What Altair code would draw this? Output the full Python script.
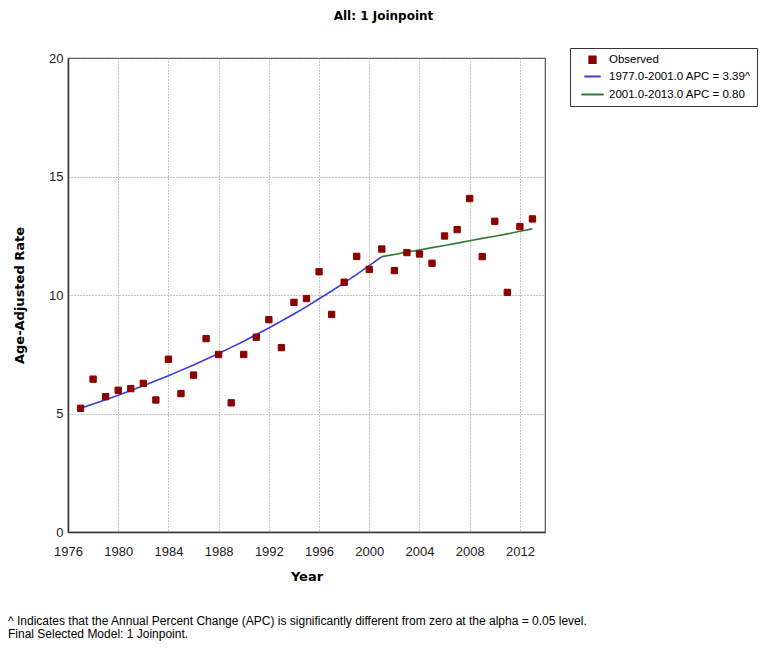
import altair as alt
import pandas as pd

# ---- data ----
years = list(range(1977, 2014))
observed = [5.22, 6.45, 5.71, 5.98, 6.05, 6.27, 5.57, 7.29, 5.84, 6.62,
            8.16, 7.49, 5.45, 7.49, 8.22, 8.96, 7.78, 9.69, 9.85, 10.98,
            9.18, 10.54, 11.63, 11.08, 11.94, 11.03, 11.79, 11.73, 11.34, 12.49,
            12.76, 14.07, 11.62, 13.11, 10.11, 12.89, 13.21]

seg1_years = list(range(1977, 2002))
seg1_fit = [5.22, 5.40, 5.58, 5.77, 5.97, 6.17, 6.38, 6.59, 6.82, 7.05,
            7.29, 7.53, 7.79, 8.05, 8.33, 8.61, 8.90, 9.20, 9.51, 9.84,
            10.17, 10.51, 10.87, 11.24, 11.62]
seg2_years = list(range(2001, 2014))
seg2_fit = [11.62, 11.71, 11.81, 11.90, 12.00, 12.09, 12.19, 12.29, 12.39,
            12.48, 12.58, 12.69, 12.79]

series_labels = ["Observed", "1977.0-2001.0 APC = 3.39^", "2001.0-2013.0 APC = 0.80"]
series_colors = ["#8b0000", "#3c3cd8", "#2e7d2e"]
series_shapes = ["square", "stroke", "stroke"]
series_sizes = [40, 500, 500]

x_ticks = [1976, 1980, 1984, 1988, 1992, 1996, 2000, 2004, 2008, 2012]
y_ticks = [0, 5, 10, 15, 20]

title_text = "All: 1 Joinpoint"
x_title = "Year"
y_title = "Age-Adjusted Rate"
footnote_lines = [
    "^ Indicates that the Annual Percent Change (APC) is significantly different from zero at the alpha = 0.05 level.",
    "Final Selected Model: 1 Joinpoint.",
]

# ---- tables ----
obs_df = pd.DataFrame({"Year": years, "Rate": observed, "series": series_labels[0]})
fit_df = pd.concat([
    pd.DataFrame({"Year": seg1_years, "Rate": seg1_fit, "series": series_labels[1]}),
    pd.DataFrame({"Year": seg2_years, "Rate": seg2_fit, "series": series_labels[2]}),
])
foot_df = pd.DataFrame({"text": ["\n".join(footnote_lines)]})

TICK_FONT = "Liberation Sans"
TITLE_FONT = "DejaVu Sans"

x_enc = alt.X("Year:Q",
              scale=alt.Scale(domain=[1976, 2014], nice=False, zero=False),
              axis=alt.Axis(values=x_ticks, format="d", title=x_title,
                            labelFlush=False, labelPadding=13, titlePadding=12))
y_enc = alt.Y("Rate:Q",
              scale=alt.Scale(domain=[0, 20], nice=False),
              axis=alt.Axis(values=y_ticks, title=y_title,
                            labelFlush=False, labelPadding=5, titlePadding=22))

legend = alt.Legend(
    title=None, orient="none", legendX=502, legendY=-10,
    strokeColor="#333", fillColor="white", padding=6,
    symbolOffset=4, labelOffset=4, rowPadding=0,
    symbolFillColor=series_colors[0], symbolStrokeWidth=2, symbolOpacity=1,
    labelFont=TICK_FONT, labelFontSize=11.5, labelColor="black", labelLimit=300,
)

color_scale = alt.Scale(domain=series_labels, range=series_colors)
shape_scale = alt.Scale(domain=series_labels, range=series_shapes)
size_scale = alt.Scale(domain=series_labels, range=series_sizes)

lines = alt.Chart(fit_df).mark_line(strokeWidth=1.6).encode(
    x=x_enc, y=y_enc,
    color=alt.Color("series:N", scale=color_scale, legend=legend),
)

points = alt.Chart(obs_df).mark_point(filled=False, fill=series_colors[0], fillOpacity=1,
                                      opacity=1, strokeWidth=1).encode(
    x=x_enc, y=y_enc,
    color=alt.Color("series:N", scale=color_scale, legend=legend),
    shape=alt.Shape("series:N", scale=shape_scale, legend=legend),
    size=alt.Size("series:N", scale=size_scale, legend=legend),
)

foot = alt.Chart(foot_df).mark_text(
    align="left", baseline="top", font=TICK_FONT, fontSize=12,
    lineBreak="\n", lineHeight=13, color="black",
).encode(text="text:N", x=alt.value(-60), y=alt.value(558))

chart = alt.layer(lines, points, foot).properties(
    width=477, height=474,
    title=alt.TitleParams(text=title_text, font=TITLE_FONT, fontSize=12,
                          fontWeight="bold", color="black", anchor="middle",
                          frame="group", baseline="middle", offset=20, dx=77),
    autosize=alt.AutoSizeParams(type="none"),
    padding={"left": 60, "top": 50, "right": 213, "bottom": 110},
).configure(
    background="white",
).configure_view(
    stroke="#555", strokeWidth=1.2,
).configure_axis(
    labelFont=TICK_FONT, labelFontSize=13, labelColor="#222",
    titleFont=TITLE_FONT, titleFontSize=13, titleFontWeight="bold", titleColor="black",
    grid=True, gridColor="#8a8a8a", gridDash=[1, 2], gridWidth=1,
    ticks=False, domainColor="#333", domainWidth=1.5,
)

chart.save("out.html", embed_options={"renderer": "svg", "actions": False})
